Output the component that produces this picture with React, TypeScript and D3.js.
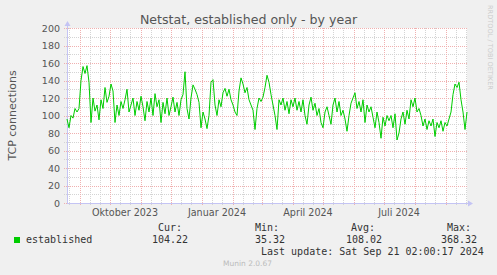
import React from "react";
import * as d3 from "d3";

const title = "Netstat, established only - by year";
const yLabel = "TCP connections";
const startDate = new Date(Date.UTC(2023, 7, 19));
const endDate = new Date(Date.UTC(2024, 8, 22));
const stepDays = 2;
const values = [
  96, 86, 100, 97, 108, 104,
  108, 140, 156, 148, 157, 138,
  92, 120, 105, 112, 95,
  118, 108, 132, 115, 122,
  136, 128, 92, 112, 100,
  116, 108, 118, 130, 104,
  112, 120, 100, 116, 106,
  122, 110, 94, 116, 104,
  120, 100, 125, 110, 118,
  92, 115, 102, 120, 100,
  110, 121, 104, 115, 100,
  118, 124, 150, 108, 96,
  120, 135, 130, 124, 115,
  86, 104, 96, 85, 100,
  138, 141, 112, 100, 118,
  110, 126, 131, 122, 130,
  118, 112, 104, 100, 128,
  143, 136, 126, 132, 118,
  112, 106, 84, 108, 120,
  116, 121, 132, 146, 138,
  124, 112, 100, 84, 118,
  112, 120, 106, 116, 102,
  118, 110, 120, 106, 116,
  104, 118, 100, 90, 112,
  121, 106, 114, 100, 108,
  92, 86, 104, 110, 100,
  90, 112, 120, 104, 116,
  100, 106, 96, 82, 100,
  114, 120, 126, 108, 116,
  104, 118, 92, 112, 104,
  110, 98, 86, 104, 92,
  74, 98, 88, 100, 94,
  100, 86, 102, 72, 80,
  96, 104, 90, 106, 96,
  118, 110, 120, 104, 108,
  100, 88, 96, 84, 94,
  88, 96, 76, 92, 86,
  94, 82, 92, 88, 96,
  104, 124, 136, 132, 138,
  118, 104, 84, 104,
];
const yTicks = [0, 20, 40, 60, 80, 100, 120, 140, 160, 180, 200];
const monthNames = ["Januar", "Februar", "März", "April", "Mai", "Juni", "Juli", "August", "September", "Oktober", "November", "Dezember"];
const legendName = "established";
const legendHeaders = ["Cur:", "Min:", "Avg:", "Max:"];
const legendValues = ["104.22", "35.32", "108.02", "368.32"];
const lastUpdate = "Last update: Sat Sep 21 02:00:17 2024";
const footer = "Munin 2.0.67";
const watermark = "RRDTOOL / TOBI OETIKER";

const W = 497, H = 275;
const L = 67, R = 467, T = 28, B = 203;

export default function App() {
  const x = d3.scaleUtc().domain([startDate, endDate]).range([L, R]);
  const y = d3.scaleLinear().domain([0, 200]).range([B, T]);
  const pts = values.map((v, i) => ({ d: d3.utcDay.offset(startDate, i * stepDays), v }));
  const line = d3.line<any>().x((p) => x(p.d)).y((p) => y(p.v));

  const months = d3.utcMonth.range(d3.utcMonth.ceil(startDate), endDate);
  const minor: Date[] = [];
  d3.utcMonth.range(d3.utcMonth.floor(startDate), endDate).forEach((m) => {
    [10, 20].forEach((off) => {
      const dd = d3.utcDay.offset(m, off);
      if (dd > startDate && dd < endDate) minor.push(dd);
    });
  });
  const labelMonths = months.filter((m) => m.getUTCMonth() % 3 === 0);
  const minorY = d3.range(10, 200, 20);

  const sans = "DejaVu Sans, sans-serif";
  const mono = "DejaVu Sans Mono, monospace";
  const legendX = [[158, 152], [255, 255], [351, 346], [447, 441]];

  return (
    <svg width={W} height={H} style={{ position: "absolute", left: 0, top: 0, display: "block" }}>
      <rect x={0} y={0} width={W} height={H} fill="#f0f0f0" />
      <rect x={L} y={T} width={R - L} height={B - T} fill="#ffffff" />
      {/* minor grid */}
      {minorY.map((v) => (
        <line key={"my" + v} x1={L - 3} x2={R} y1={Math.round(y(v)) + 0.5} y2={Math.round(y(v)) + 0.5} stroke="#d4d4d4" strokeDasharray="1,1" strokeWidth={1} />
      ))}
      {minor.map((d, i) => (
        <line key={"mx" + i} x1={Math.round(x(d)) + 0.5} x2={Math.round(x(d)) + 0.5} y1={T} y2={B + 2} stroke="#d4d4d4" strokeDasharray="1,1" strokeWidth={1} />
      ))}
      {/* major grid */}
      {yTicks.map((v) => (
        <line key={"Y" + v} x1={L - 3} x2={R} y1={Math.round(y(v)) + 0.5} y2={Math.round(y(v)) + 0.5} stroke="#f0b0b0" strokeDasharray="1,1" strokeWidth={1} />
      ))}
      {months.map((d, i) => (
        <line key={"X" + i} x1={Math.round(x(d)) + 0.5} x2={Math.round(x(d)) + 0.5} y1={T} y2={B + 3} stroke="#f0b0b0" strokeDasharray="1,1" strokeWidth={1} />
      ))}
      {/* axes */}
      <line x1={L + 0.5} x2={L + 0.5} y1={B} y2={T - 4} stroke="#c4c4f4" strokeWidth={1} />
      <line x1={L} x2={R + 2} y1={B + 0.5} y2={B + 0.5} stroke="#c4c4f4" strokeWidth={1} />
      <path d={`M${L - 2.5},${T - 2} L${L + 3.5},${T - 2} L${L + 0.5},${T - 7} Z`} fill="#c4c4f4" />
      <path d={`M${R + 1},${B - 2.5} L${R + 1},${B + 3.5} L${R + 6},${B + 0.5} Z`} fill="#c4c4f4" />
      {/* data */}
      <path d={line(pts) || ""} fill="none" stroke="#00cc00" strokeWidth={1} />
      {/* y tick labels */}
      {yTicks.map((v) => (
        <text key={"yl" + v} x={60} y={y(v) + 3.5} textAnchor="end" fontFamily={sans} fontSize={9.5} fill="#555">{v}</text>
      ))}
      {labelMonths.map((d, i) => (
        <text key={"xl" + i} x={x(d3.utcDay.offset(d, 15))} y={216} textAnchor="middle" fontFamily={sans} fontSize={9.6} fill="#555">
          {monthNames[d.getUTCMonth()] + " " + d.getUTCFullYear()}
        </text>
      ))}
      <text x={W / 2} y={23.5} textAnchor="middle" fontFamily={sans} fontSize={12.6} fill="#555">{title}</text>
      <text transform={`translate(16,${(T + B) / 2}) rotate(-90)`} textAnchor="middle" fontFamily={sans} fontSize={11} fill="#555">{yLabel}</text>
      <text transform={`translate(487.5,5) rotate(90)`} textAnchor="start" fontFamily={sans} fontSize={6.6} fill="#cccccc">{watermark}</text>
      {/* legend */}
      <rect x={14} y={237} width={6} height={6} fill="#00cc00" />
      <text x={26} y={243} fontFamily={mono} fontSize={10} fill="#333">{legendName}</text>
      {legendHeaders.map((h, i) => (
        <text key={"lh" + i} x={legendX[i][0]} y={231} fontFamily={mono} fontSize={10} fill="#333">{h}</text>
      ))}
      {legendValues.map((v, i) => (
        <text key={"lv" + i} x={legendX[i][1]} y={243} fontFamily={mono} fontSize={10} fill="#333">{v}</text>
      ))}
      <text x={261} y={255} fontFamily={mono} fontSize={10} fill="#333">{lastUpdate}</text>
      <text x={247.5} y={266} textAnchor="middle" fontFamily={sans} fontSize={7.5} fill="#bbbbbb">{footer}</text>
    </svg>
  );
}
